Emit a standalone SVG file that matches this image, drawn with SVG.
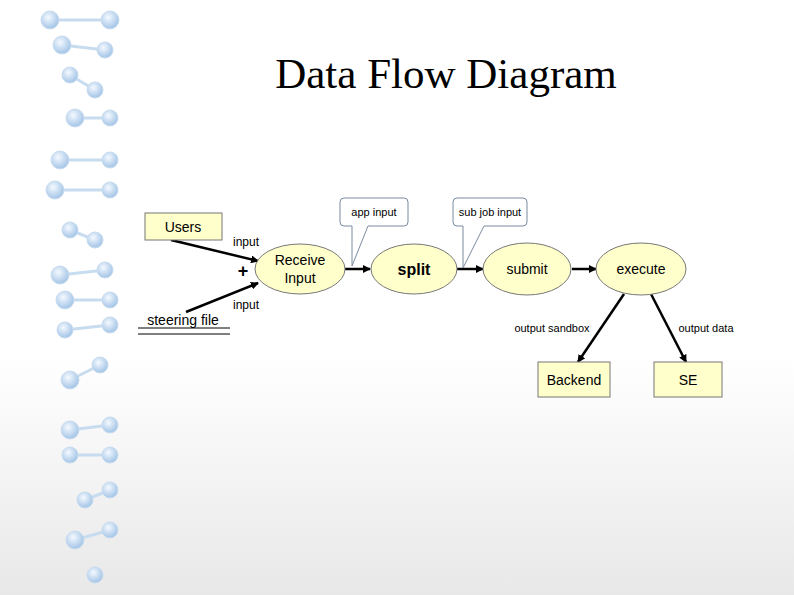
<svg xmlns="http://www.w3.org/2000/svg" width="794" height="595" viewBox="0 0 794 595">
<defs>
<marker id="ah" markerWidth="8" markerHeight="8" refX="7" refY="4" orient="auto" markerUnits="userSpaceOnUse"><path d="M0,0 L8,4 L0,8 z" fill="#000"/></marker>
<linearGradient id="bg" x1="0" y1="0" x2="0" y2="1"><stop offset="0.6" stop-color="#fff"/><stop offset="1" stop-color="#e8e8e8"/></linearGradient>
<radialGradient id="ball" cx="0.4" cy="0.35" r="0.6"><stop offset="0" stop-color="#f4f9ff"/><stop offset="1" stop-color="#a9c8e8"/></radialGradient>
</defs>
<style>
.t{font-family:"Liberation Sans",Arial,sans-serif;fill:#000}
.n{fill:#ffffcc;stroke:#777;stroke-width:1}
.c{fill:#fff;stroke:#7a8aa0;stroke-width:1}
.e{stroke:#000;stroke-width:2.5;fill:none;marker-end:url(#ah)}
.b{fill:url(#ball);stroke:#c8dcf0;stroke-width:1}
.r{stroke:#c8dcf0;stroke-width:3}
</style>
<rect width="794" height="595" fill="url(#bg)"/>
<g id="dna">
<g class="r">
<line x1="50" y1="20" x2="110" y2="20"/><line x1="62" y1="45" x2="105" y2="50"/><line x1="70" y1="75" x2="95" y2="90"/><line x1="75" y1="118" x2="110" y2="118"/><line x1="60" y1="160" x2="110" y2="160"/><line x1="55" y1="190" x2="110" y2="190"/><line x1="70" y1="230" x2="95" y2="240"/><line x1="60" y1="275" x2="105" y2="270"/><line x1="65" y1="300" x2="110" y2="300"/><line x1="65" y1="330" x2="110" y2="325"/><line x1="70" y1="380" x2="100" y2="365"/><line x1="70" y1="430" x2="110" y2="425"/><line x1="70" y1="455" x2="110" y2="455"/><line x1="85" y1="500" x2="110" y2="490"/><line x1="75" y1="540" x2="110" y2="530"/>
</g>
<circle class="b" cx="50" cy="20" r="9"/><circle class="b" cx="110" cy="20" r="9"/><circle class="b" cx="62" cy="45" r="9"/><circle class="b" cx="105" cy="50" r="8"/><circle class="b" cx="70" cy="75" r="8"/><circle class="b" cx="95" cy="90" r="8"/><circle class="b" cx="75" cy="118" r="9"/><circle class="b" cx="110" cy="118" r="8"/><circle class="b" cx="60" cy="160" r="9"/><circle class="b" cx="110" cy="160" r="8"/><circle class="b" cx="55" cy="190" r="9"/><circle class="b" cx="110" cy="190" r="8"/><circle class="b" cx="70" cy="230" r="8"/><circle class="b" cx="95" cy="240" r="8"/><circle class="b" cx="60" cy="275" r="9"/><circle class="b" cx="105" cy="270" r="8"/><circle class="b" cx="65" cy="300" r="9"/><circle class="b" cx="110" cy="300" r="8"/><circle class="b" cx="65" cy="330" r="8"/><circle class="b" cx="110" cy="325" r="8"/><circle class="b" cx="70" cy="380" r="9"/><circle class="b" cx="100" cy="365" r="8"/><circle class="b" cx="70" cy="430" r="9"/><circle class="b" cx="110" cy="425" r="8"/><circle class="b" cx="70" cy="455" r="8"/><circle class="b" cx="110" cy="455" r="8"/><circle class="b" cx="85" cy="500" r="8"/><circle class="b" cx="110" cy="490" r="8"/><circle class="b" cx="75" cy="540" r="9"/><circle class="b" cx="110" cy="530" r="8"/><circle class="b" cx="95" cy="575" r="8"/>
</g>
<text class="t" x="446" y="88" text-anchor="middle" style="font-family:'Liberation Serif','Times New Roman',serif;font-size:43px">Data Flow Diagram</text>
<g id="connectors">
<line class="e" x1="171" y1="240" x2="258" y2="261"/>
<line class="e" x1="186" y1="312" x2="258" y2="283"/>
<line class="e" x1="345" y1="269" x2="370" y2="269"/>
<line class="e" x1="457" y1="269" x2="483" y2="269"/>
<line class="e" x1="572" y1="269" x2="596" y2="269"/>
<line class="e" x1="624" y1="294" x2="578" y2="362"/>
<line class="e" x1="651" y1="294" x2="686" y2="362"/>
<text class="t" x="233" y="246" font-size="12">input</text>
<text class="t" x="233" y="309" font-size="12">input</text>
<text class="t" x="243" y="277" font-size="18" text-anchor="middle" font-weight="bold">+</text>
<text class="t" x="552" y="332" font-size="11" text-anchor="middle">output sandbox</text>
<text class="t" x="706" y="332" font-size="11" text-anchor="middle">output data</text>
</g>
<g id="users"><rect class="n" x="145" y="213" width="77" height="27"/><text class="t" x="183" y="232" font-size="14" text-anchor="middle">Users</text></g>
<g id="steering"><text class="t" x="183" y="325" font-size="14" text-anchor="middle">steering file</text><line x1="138" y1="328" x2="230" y2="328" stroke="#000"/><line x1="138" y1="334" x2="230" y2="334" stroke="#000"/></g>
<g id="receive"><ellipse class="n" cx="300" cy="269" rx="45" ry="25"/><text class="t" x="300" y="265" font-size="14" text-anchor="middle">Receive</text><text class="t" x="300" y="283" font-size="14" text-anchor="middle">Input</text></g>
<g id="split"><ellipse class="n" cx="414" cy="269" rx="43" ry="25"/><text class="t" x="414" y="275" font-size="16" font-weight="bold" text-anchor="middle">split</text></g>
<g id="submit"><ellipse class="n" cx="527" cy="269" rx="44" ry="26"/><text class="t" x="527" y="274" font-size="14" text-anchor="middle">submit</text></g>
<g id="execute"><ellipse class="n" cx="641" cy="269" rx="45" ry="26"/><text class="t" x="641" y="274" font-size="14" text-anchor="middle">execute</text></g>
<g id="backend"><rect class="n" x="538" y="362" width="72" height="35"/><text class="t" x="574" y="385" font-size="14" text-anchor="middle">Backend</text></g>
<g id="se"><rect class="n" x="654" y="362" width="68" height="35"/><text class="t" x="688" y="385" font-size="14" text-anchor="middle">SE</text></g>
<g id="appinput"><path class="c" d="M344,198 H404 Q408,198 408,202 V222 Q408,226 404,226 H368 L352,266 L352,226 H344 Q340,226 340,222 V202 Q340,198 344,198 Z"/><text class="t" x="374" y="216" font-size="11" text-anchor="middle">app input</text></g>
<g id="subjob"><path class="c" d="M457,198 H523 Q527,198 527,202 V222 Q527,226 523,226 H484 L463,268 L463,226 H457 Q453,226 453,222 V202 Q453,198 457,198 Z"/><text class="t" x="490" y="216" font-size="11" text-anchor="middle">sub job input</text></g>
</svg>
